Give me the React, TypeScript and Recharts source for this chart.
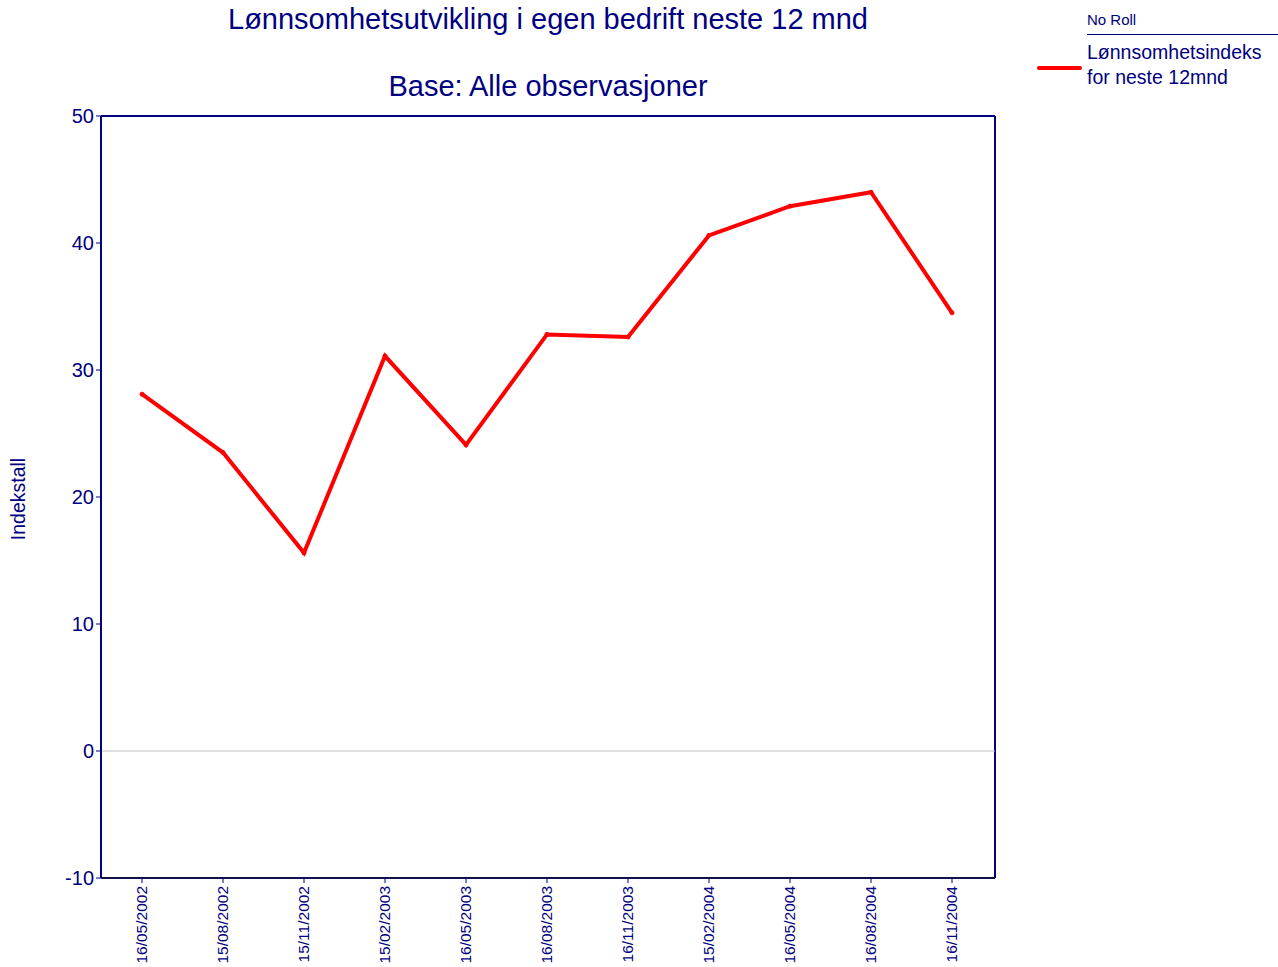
import React from 'react';
import { LineChart, Line, XAxis, YAxis, ReferenceLine, CartesianGrid, Legend } from 'recharts';

const dates = [
  '16/05/2002', '15/08/2002', '15/11/2002', '15/02/2003', '16/05/2003', '16/08/2003',
  '16/11/2003', '15/02/2004', '16/05/2004', '16/08/2004', '16/11/2004',
];
const index12m = [28.1, 23.5, 15.6, 31.1, 24.1, 32.8, 32.6, 40.6, 42.9, 44.0, 34.5];
const yTicks = [-10, 0, 10, 20, 30, 40, 50];

const NAVY = '#000080';
const FONT = '"Liberation Sans", Arial, sans-serif';

const data = dates.map((d, i) => ({ date: d, value: index12m[i] }));

const DateTick = (props: any) => {
  const { x, y, payload } = props;
  return (
    <g transform={`translate(${x + 5},${y + 1})`}>
      <text transform="rotate(-90)" textAnchor="end" fontSize={15.5} fill={NAVY} fontFamily={FONT}>
        {payload.value}
      </text>
    </g>
  );
};

const LegendBox = () => (
  <div style={{ position: 'relative', width: 248, height: 100, fontFamily: FONT, color: NAVY }}>
    <div style={{ position: 'absolute', left: 57, top: 11, fontSize: 15 }}>No Roll</div>
    <div style={{ position: 'absolute', left: 57, top: 34, width: 191, height: 1, background: NAVY }} />
    <div style={{ position: 'absolute', left: 7, top: 66, width: 45, height: 4, background: '#ff0000', borderRadius: 2 }} />
    <div style={{ position: 'absolute', left: 57, top: 40, fontSize: 19.5, lineHeight: '25px' }}>
      Lønnsomhetsindeks
      <br />
      for neste 12mnd
    </div>
  </div>
);

export default function App() {
  return (
    <div style={{ position: 'absolute', left: 0, top: 0, width: 1278, height: 967, background: '#fff', fontFamily: FONT }}>
      <div style={{ position: 'absolute', left: 101, width: 894, top: 3, textAlign: 'center', color: NAVY, fontSize: 29 }}>
        Lønnsomhetsutvikling i egen bedrift neste 12 mnd
      </div>
      <div style={{ position: 'absolute', left: 101, width: 894, top: 70, textAlign: 'center', color: NAVY, fontSize: 29 }}>
        Base: Alle observasjoner
      </div>
      <div
        style={{
          position: 'absolute', left: 18, top: 499, transform: 'translate(-50%,-50%) rotate(-90deg)',
          color: NAVY, fontSize: 19.5, whiteSpace: 'nowrap',
        }}
      >
        Indekstall
      </div>
      <LineChart
        width={1278}
        height={967}
        data={data}
        margin={{ top: 116, right: 35, bottom: 0, left: 41 }}
        style={{ position: 'absolute', left: 0, top: 0 }}
      >
        {/* plot frame: top and right edges */}
        <CartesianGrid
          stroke={NAVY}
          strokeWidth={2}
          horizontalCoordinatesGenerator={({ offset }: any) => [offset.top]}
          verticalCoordinatesGenerator={({ offset }: any) => [offset.left + offset.width]}
        />
        <XAxis
          dataKey="date"
          height={89}
          padding={{ left: 41, right: 43 }}
          interval={0}
          tick={<DateTick />}
          tickSize={5}
          stroke="#10104a"
          strokeWidth={2}
          tickLine={{ stroke: NAVY, strokeWidth: 1 }}
        />
        <YAxis
          width={60}
          domain={[-10, 50]}
          ticks={yTicks}
          interval={0}
          tickSize={5}
          stroke={NAVY}
          strokeWidth={2}
          tickLine={{ stroke: NAVY, strokeWidth: 1 }}
          tick={{ fill: NAVY, fontSize: 20, fontFamily: FONT }}
        />
        <ReferenceLine y={0} stroke="#c0c0c0" strokeWidth={1} />
        <Legend
          content={<LegendBox />}
          layout="vertical"
          verticalAlign="top"
          align="right"
          wrapperStyle={{ position: 'absolute', left: 1030, top: 0, width: 248 }}
        />
        <Line
          type="linear"
          dataKey="value"
          stroke="#ff0000"
          strokeWidth={4}
          dot={{ r: 2, fill: '#ff0000', stroke: '#ff0000', strokeWidth: 1 }}
          activeDot={false}
          isAnimationActive={false}
        />
      </LineChart>
    </div>
  );
}
